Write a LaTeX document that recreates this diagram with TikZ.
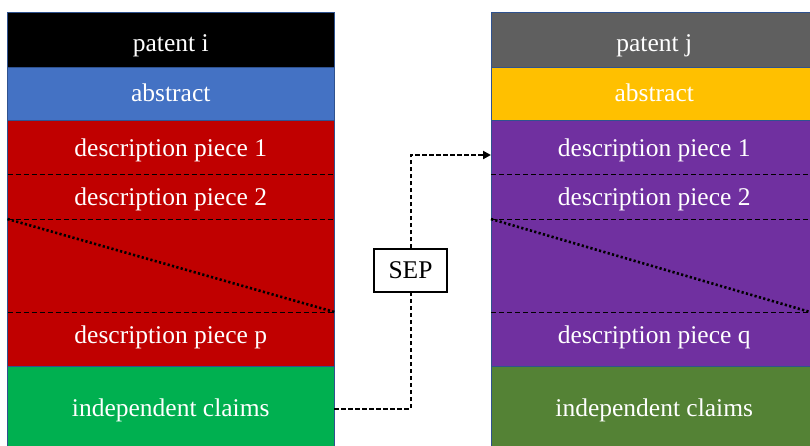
\documentclass[tikz,border=0pt]{standalone}
\usepackage{fontspec}
\setmainfont{Liberation Serif}
\usetikzlibrary{arrows.meta}
\definecolor{edgeblue}{HTML}{2F528F}
\definecolor{absblue}{HTML}{4472C4}
\definecolor{descred}{HTML}{C00000}
\definecolor{claimgreen}{HTML}{00B050}
\definecolor{headgray}{HTML}{5F5F5F}
\definecolor{absgold}{HTML}{FFC000}
\definecolor{descpurple}{HTML}{7030A0}
\definecolor{claimolive}{HTML}{548235}
\tikzset{
  cell/.style={rectangle, draw=edgeblue, line width=0.8pt, minimum width=326.5pt,
    inner sep=0pt},
  label/.style={anchor=base, inner sep=0pt, text=white, font=\fontsize{25.5}{28}\selectfont},
  sepline/.style={black, line width=1pt, dash pattern=on 5pt off 3pt},
  cutline/.style={black, line width=2.6pt, line cap=butt, dash pattern=on 2.2pt off 2.3pt},
  flow/.style={black, line width=2pt, dash pattern=on 4.5pt off 2.5pt},
  sepbox/.style={draw=black, line width=1.5pt, fill=white, minimum width=73pt,
    minimum height=43pt, inner sep=0pt, font=\fontsize{25.5}{28}\selectfont}
}
\begin{document}
\begin{tikzpicture}[x=1pt, y=-1pt]
\useasboundingbox (0,0) rectangle (810,445);

% left document: patent i
\node[cell, fill=black, minimum height=55pt] (lhead) at (170.75,39.5) {};
\node[cell, fill=absblue, minimum height=53pt] (labs) at (170.75,93.5) {};
\node[cell, fill=descred, minimum height=246pt] (ldesc) at (170.75,243) {};
\node[cell, fill=claimgreen, minimum height=86pt] (lclaims) at (170.75,409) {};
\node[label] (lht) at (170.75,51.5) {patent i};
\node[label] (lat) at (170.75,101.7) {abstract};
\node[label] (ld1) at (170.75,156.7) {description piece 1};
\node[label] (ld2) at (170.75,205) {description piece 2};
\node[label] (ldp) at (170.75,343) {description piece p};
\node[label] (lct) at (170.75,416.7) {independent claims};
\coordinate (la) at (7.5,174);
\coordinate (lb) at (7.5,219);
\coordinate (lc) at (7.5,312);
\draw[sepline] (la) -- (la -| ldesc.east);
\draw[sepline] (lb) -- (lb -| ldesc.east);
\draw[sepline] (lc) -- (lc -| ldesc.east);
\draw[cutline] (lb) -- (lc -| ldesc.east);

% right document: patent j
\node[cell, fill=headgray, minimum height=55pt] (rhead) at (654.25,39.5) {};
\node[cell, fill=absgold, minimum height=53pt] (rabs) at (654.25,93.5) {};
\node[cell, fill=descpurple, minimum height=246pt] (rdesc) at (654.25,243) {};
\node[cell, fill=claimolive, minimum height=86pt] (rclaims) at (654.25,409) {};
\node[label] (rht) at (654.25,51.5) {patent j};
\node[label] (rat) at (654.25,101.7) {abstract};
\node[label] (rd1) at (654.25,156.7) {description piece 1};
\node[label] (rd2) at (654.25,205) {description piece 2};
\node[label] (rdq) at (654.25,343) {description piece q};
\node[label] (rct) at (654.25,416.7) {independent claims};
\coordinate (ra) at (491,174);
\coordinate (rb) at (491,219);
\coordinate (rc) at (491,312);
\draw[sepline] (ra) -- (ra -| rdesc.east);
\draw[sepline] (rb) -- (rb -| rdesc.east);
\draw[sepline] (rc) -- (rc -| rdesc.east);
\draw[cutline] (rb) -- (810,312);

% separator token between the two documents
\node[sepbox] (sep) at (410.5,270.5) {SEP};
\coordinate (rin) at (491,155);
\draw[flow] (lclaims.east) -| (sep.south);
\draw[flow, -{Triangle[length=8pt, width=8pt]}] (sep.north) |- (rin);
\end{tikzpicture}
\end{document}
